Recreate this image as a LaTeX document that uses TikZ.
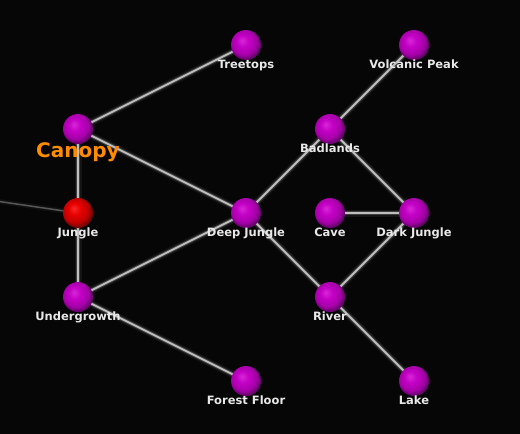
\documentclass[tikz,border=0pt]{standalone}
\usepackage{fontspec}
\setmainfont{DejaVu Sans}
\definecolor{bg}{RGB}{6,6,6}
\definecolor{pA}{RGB}{215,40,215}
\definecolor{pB}{RGB}{196,0,198}
\definecolor{pC}{RGB}{165,0,168}
\definecolor{pD}{RGB}{110,0,115}
\definecolor{rA}{RGB}{250,40,40}
\definecolor{rB}{RGB}{232,0,0}
\definecolor{rC}{RGB}{190,0,0}
\definecolor{rD}{RGB}{125,0,0}
\definecolor{lblc}{RGB}{232,232,232}
\definecolor{linec}{RGB}{190,190,190}
\definecolor{orangec}{RGB}{255,140,0}
\pgfdeclareradialshading{pball}{\pgfqpoint{-7bp}{8bp}}{color(0bp)=(pA); color(10bp)=(pB); color(21bp)=(pC); color(26bp)=(pD); color(50bp)=(pD)}
\pgfdeclareradialshading{rball}{\pgfqpoint{-7bp}{8bp}}{color(0bp)=(rA); color(10bp)=(rB); color(21bp)=(rC); color(26bp)=(rD); color(50bp)=(rD)}
\tikzset{
  pnode/.style={circle, minimum size=30pt, inner sep=0pt, shading=pball},
  rnode/.style={circle, minimum size=30pt, inner sep=0pt, shading=rball},
  lbl/.style={anchor=base, text=lblc, font=\bfseries\fontsize{11.5}{13}\selectfont, inner sep=0pt},
  biglbl/.style={anchor=base, text=orangec, font=\bfseries\fontsize{20}{24}\selectfont, inner sep=0pt},
  glow/.style={line width=7pt, white, opacity=0.06},
  halo/.style={line width=4pt, white, opacity=0.18},
  core/.style={line width=2pt, linec},
}
\newcommand{\myedge}[2]{%
  \draw[glow] (#1.center) -- (#2.center);
  \draw[halo] (#1.center) -- (#2.center);
  \draw[core] (#1.center) -- (#2.center);}
\begin{document}
\begin{tikzpicture}[x=1pt,y=-1pt]
\fill[bg] (0,0) rectangle (520,434);
\useasboundingbox (0,0) rectangle (520,434);
% positions
\coordinate (ctreetops) at (246,45);
\coordinate (cvolcanic) at (414,45);
\coordinate (ccanopy) at (78,129);
\coordinate (cbadlands) at (330,129);
\coordinate (cjungle) at (78,213);
\coordinate (cdeep) at (246,213);
\coordinate (ccave) at (330,213);
\coordinate (cdark) at (414,213);
\coordinate (cunder) at (78,297);
\coordinate (criver) at (330,297);
\coordinate (cforest) at (246,381);
\coordinate (clake) at (414,381);
\coordinate (offleft) at (-4,201);
% edges
\draw[line width=5pt, white, opacity=0.04] (offleft) -- (cjungle);
\draw[line width=1.5pt, white, opacity=0.3] (offleft) -- (cjungle);
\myedge{ccanopy}{ctreetops}
\myedge{ccanopy}{cjungle}
\myedge{ccanopy}{cdeep}
\myedge{cjungle}{cunder}
\myedge{cunder}{cdeep}
\myedge{cunder}{cforest}
\myedge{cdeep}{cbadlands}
\myedge{cdeep}{criver}
\myedge{cbadlands}{cvolcanic}
\myedge{cbadlands}{cdark}
\myedge{ccave}{cdark}
\myedge{cdark}{criver}
\myedge{criver}{clake}
% nodes
\node[pnode] (treetops) at (ctreetops) {};
\node[pnode] (volcanic) at (cvolcanic) {};
\node[pnode] (canopy) at (ccanopy) {};
\node[pnode] (badlands) at (cbadlands) {};
\node[rnode] (jungle) at (cjungle) {};
\node[pnode] (deep) at (cdeep) {};
\node[pnode] (cave) at (ccave) {};
\node[pnode] (dark) at (cdark) {};
\node[pnode] (under) at (cunder) {};
\node[pnode] (river) at (criver) {};
\node[pnode] (forest) at (cforest) {};
\node[pnode] (lake) at (clake) {};
% labels
\node[lbl] (treetopsL) at ([yshift=-23.5pt]treetops.center) {Treetops};
\node[lbl] (volcanicL) at ([yshift=-23.5pt]volcanic.center) {Volcanic Peak};
\node[biglbl] (canopyL) at ([yshift=-28pt]canopy.center) {Canopy};
\node[lbl] (badlandsL) at ([yshift=-23.5pt]badlands.center) {Badlands};
\node[lbl] (jungleL) at ([yshift=-23.5pt]jungle.center) {Jungle};
\node[lbl] (deepL) at ([yshift=-23.5pt]deep.center) {Deep Jungle};
\node[lbl] (caveL) at ([yshift=-23.5pt]cave.center) {Cave};
\node[lbl] (darkL) at ([yshift=-23.5pt]dark.center) {Dark Jungle};
\node[lbl] (underL) at ([yshift=-23.5pt]under.center) {Undergrowth};
\node[lbl] (riverL) at ([yshift=-23.5pt]river.center) {River};
\node[lbl] (forestL) at ([yshift=-23.5pt]forest.center) {Forest Floor};
\node[lbl] (lakeL) at ([yshift=-23.5pt]lake.center) {Lake};
\end{tikzpicture}
\end{document}
